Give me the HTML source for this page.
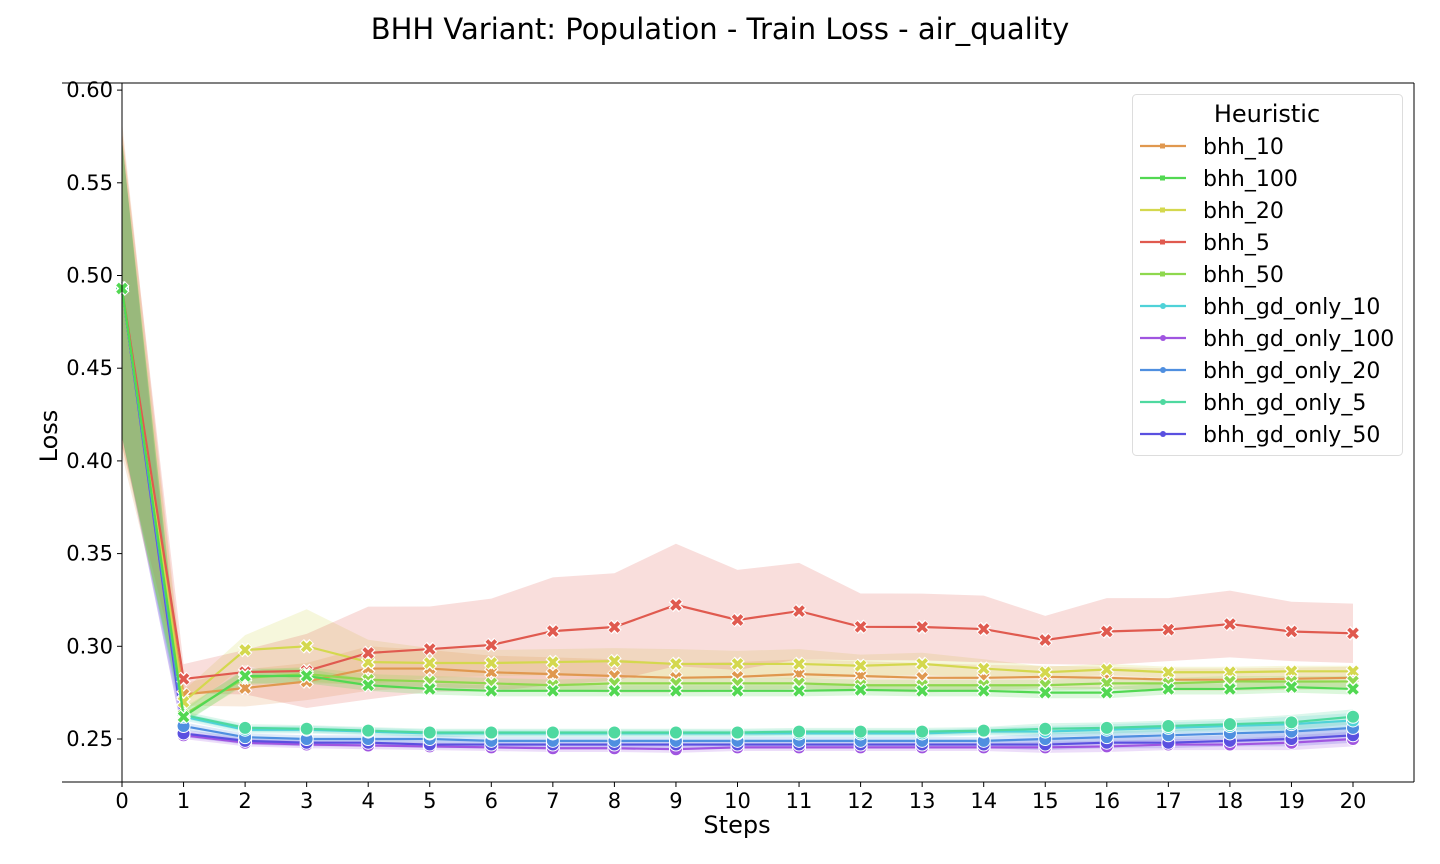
<!DOCTYPE html>
<html><head><meta charset="utf-8"><style>
html,body{margin:0;padding:0;background:#fff;}
svg{display:block;font-family:"DejaVu Sans","Liberation Sans",sans-serif;}
</style></head><body>
<svg id="chart" width="1440" height="864" viewBox="0 0 1440 864">
<text x="720" y="39" font-size="29" text-anchor="middle">BHH Variant: Population - Train Loss - air_quality</text>
<g id="bands"></g><g id="lines"></g><g id="axes"></g><g id="legend"></g>
</svg>
<script>
const steps=[0,1,2,3,4,5,6,7,8,9,10,11,12,13,14,15,16,17,18,19,20];
const yTicks=[0.25,0.30,0.35,0.40,0.45,0.50,0.55,0.60];
const names=["bhh_10","bhh_100","bhh_20","bhh_5","bhh_50","bhh_gd_only_10","bhh_gd_only_100","bhh_gd_only_20","bhh_gd_only_5","bhh_gd_only_50"];
const colors=["#e0984f","#52d852","#d4d84e","#e05a4f","#8ed84e","#4fd2d8","#a055e0","#4f8fe0","#4fd9a0","#5a50e0"];
const bhh_10=[0.493,0.274,0.2775,0.281,0.288,0.288,0.286,0.285,0.284,0.283,0.2835,0.285,0.284,0.283,0.283,0.2835,0.283,0.282,0.282,0.2825,0.283];
const bhh_100=[0.493,0.262,0.284,0.284,0.279,0.277,0.276,0.276,0.276,0.276,0.276,0.276,0.2765,0.276,0.276,0.275,0.275,0.277,0.277,0.278,0.277];
const bhh_20=[0.493,0.270,0.298,0.300,0.2915,0.291,0.291,0.2915,0.292,0.2905,0.2905,0.2905,0.2895,0.2905,0.288,0.286,0.2875,0.286,0.286,0.2865,0.2865];
const bhh_5=[0.493,0.2824,0.2861,0.2867,0.2964,0.2985,0.3007,0.3082,0.3104,0.3223,0.3142,0.319,0.3105,0.3104,0.3093,0.3034,0.308,0.309,0.312,0.308,0.307];
const bhh_50=[0.493,0.263,0.283,0.285,0.282,0.281,0.280,0.279,0.280,0.280,0.280,0.280,0.279,0.279,0.279,0.279,0.280,0.280,0.281,0.281,0.281];
const gd_10=[0.493,0.262,0.255,0.255,0.254,0.253,0.253,0.253,0.253,0.253,0.253,0.253,0.253,0.253,0.254,0.254,0.255,0.256,0.257,0.258,0.260];
const gd_100=[0.493,0.252,0.248,0.247,0.2465,0.246,0.2455,0.245,0.245,0.2445,0.2455,0.2455,0.2455,0.2455,0.2455,0.2455,0.246,0.247,0.247,0.248,0.250];
const gd_20=[0.493,0.257,0.251,0.250,0.250,0.250,0.249,0.249,0.249,0.249,0.249,0.249,0.249,0.249,0.249,0.250,0.251,0.252,0.253,0.254,0.256];
const gd_5=[0.493,0.263,0.256,0.2555,0.2545,0.2535,0.2535,0.2535,0.2535,0.2535,0.2535,0.254,0.254,0.254,0.2545,0.2555,0.256,0.257,0.258,0.259,0.262];
const gd_50=[0.493,0.253,0.249,0.248,0.248,0.247,0.247,0.247,0.247,0.247,0.247,0.247,0.247,0.247,0.247,0.247,0.248,0.248,0.249,0.250,0.252];
const err_10=[0.09,0.006,0.01,0.01,0.012,0.01,0.009,0.009,0.009,0.008,0.008,0.008,0.008,0.008,0.007,0.006,0.006,0.006,0.006,0.006,0.006];
const err_20=[0.085,0.006,0.008,0.02,0.012,0.008,0.007,0.007,0.007,0.008,0.007,0.008,0.006,0.006,0.005,0.003,0.003,0.003,0.003,0.003,0.003];
const err_5=[0.085,0.008,0.012,0.02,0.025,0.023,0.025,0.029,0.029,0.033,0.027,0.026,0.018,0.018,0.018,0.013,0.018,0.017,0.018,0.016,0.016];
const err_g=[0.08,0.004,0.004,0.004,0.003,0.003,0.003,0.003,0.003,0.003,0.003,0.003,0.003,0.003,0.003,0.003,0.003,0.003,0.003,0.003,0.003];
const err_gd=[0.08,0.002,0.002,0.002,0.002,0.002,0.002,0.002,0.002,0.002,0.002,0.002,0.002,0.002,0.002,0.003,0.003,0.003,0.003,0.004,0.004];
const series=[bhh_10,bhh_100,bhh_20,bhh_5,bhh_50,gd_10,gd_100,gd_20,gd_5,gd_50];
const errs=[err_10,err_g,err_20,err_5,err_g,err_gd,err_gd,err_gd,err_gd,err_gd];
const drawOrder=[6,9,7,5,8,0,2,3,4,1];
const NS="http://www.w3.org/2000/svg";
const xs=v=>122+v*61.55;
const ys=v=>739-(v-0.25)*1854;
function mk(tag,attrs,parent){const e=document.createElementNS(NS,tag);for(const k in attrs)e.setAttribute(k,attrs[k]);parent.appendChild(e);return e;}
const gB=document.getElementById('bands'),gL=document.getElementById('lines'),gA=document.getElementById('axes'),gG=document.getElementById('legend');
drawOrder.forEach(i=>{
  const s=series[i],e=errs[i];
  let d=steps.map((x,j)=>(j?'L':'M')+xs(x)+','+ys(s[j]+e[j])).join('')+steps.slice().reverse().map(x=>'L'+xs(x)+','+ys(s[x]-e[x])).join('')+'Z';
  const b=mk('path',{d:d,fill:colors[i],'fill-opacity':0.2,stroke:'none'},gB);
  
  
});
drawOrder.forEach(i=>{
  const s=series[i];
  const g=mk('g',{},gL);
  
  
  mk('polyline',{points:steps.map(x=>xs(x)+','+ys(s[x])).join(' '),fill:'none',stroke:colors[i],'stroke-width':2.2},g);
  steps.forEach(x=>{
    const cx=xs(x),cy=ys(s[x]);
    if(i<5){
      mk('path',{d:`M${cx-5},${cy-5}L${cx+5},${cy+5}M${cx-5},${cy+5}L${cx+5},${cy-5}`,stroke:'#fff','stroke-width':6.5},g);
      const m2=mk('path',{d:`M${cx-4.5},${cy-4.5}L${cx+4.5},${cy+4.5}M${cx-4.5},${cy+4.5}L${cx+4.5},${cy-4.5}`,stroke:colors[i],'stroke-width':3.8},g);
      
      
    } else {
      const c=mk('circle',{cx:cx,cy:cy,r:6.5,fill:colors[i],stroke:'#fff','stroke-width':1},g);
      
      
    }
  });
});
mk('line',{x1:122,y1:83,x2:122,y2:782,stroke:'#000','stroke-width':1},gA);
mk('line',{x1:62,y1:782,x2:1414,y2:782,stroke:'#000','stroke-width':1},gA);
mk('line',{x1:62,y1:83,x2:1414,y2:83,stroke:'#000','stroke-width':1},gA);
mk('line',{x1:1414,y1:83,x2:1414,y2:782,stroke:'#000','stroke-width':1},gA);
yTicks.forEach(v=>{
  mk('line',{x1:117,y1:ys(v),x2:122,y2:ys(v),stroke:'#000'},gA);
  const t=mk('text',{x:113,y:ys(v)+7,'font-size':21,'text-anchor':'end'},gA);t.textContent=v.toFixed(2);
  
  
});
steps.forEach(x=>{
  mk('line',{x1:xs(x),y1:782,x2:xs(x),y2:787,stroke:'#000'},gA);
  const t=mk('text',{x:xs(x),y:808,'font-size':21,'text-anchor':'middle'},gA);t.textContent=x;
  
  
});
const xl=mk('text',{x:737,y:833,'font-size':24,'text-anchor':'middle'},gA);xl.textContent='Steps';


const yl=mk('text',{x:57,y:436,'font-size':24,'text-anchor':'middle',transform:'rotate(-90 57 436)'},gA);yl.textContent='Loss';


const box=mk('rect',{x:1132.5,y:94.5,width:270,height:361,rx:4,fill:'#fff','fill-opacity':0.85,stroke:'#ddd'},gG);


const lt=mk('text',{x:1267,y:122,'font-size':24,'text-anchor':'middle'},gG);lt.textContent='Heuristic';


names.forEach((n,i)=>{
  const y=146+i*32;
  const g=mk('g',{},gG);
  
  
  mk('line',{x1:1140,y1:y,x2:1186,y2:y,stroke:colors[i],'stroke-width':2.2},g);
  if(i<5) mk('rect',{x:1160,y:y-2.5,width:5,height:5,fill:colors[i]},g);
  else mk('circle',{cx:1163,cy:y,r:3,fill:colors[i]},g);
  const t=mk('text',{x:1203,y:y+8,'font-size':22},g);t.textContent=n;
});
</script>
</body></html>
